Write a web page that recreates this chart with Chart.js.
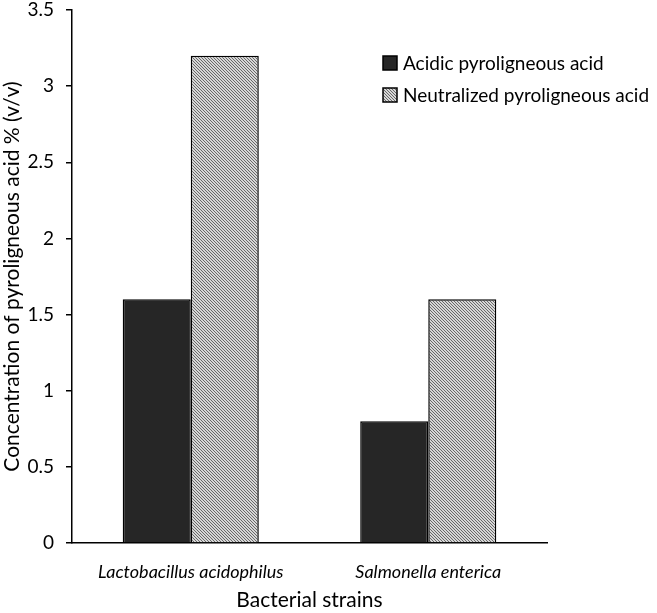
<!DOCTYPE html>
<html>
<head>
<meta charset="utf-8">
<script src="https://cdn.jsdelivr.net/npm/chart.js@4.4.0/dist/chart.umd.min.js"></script>
<style>
  html, body { margin: 0; padding: 0; background: #fff; }
  #wrap { width: 657px; height: 613px; }
</style>
</head>
<body>
<div id="wrap"><canvas id="barChart" width="657" height="613"></canvas></div>
<script>
const strains = ["Lactobacillus acidophilus", "Salmonella enterica"];
const acidic = [1.6, 0.8];
const neutralized = [3.2, 1.6];
const seriesNames = ["Acidic pyroligneous acid", "Neutralized pyroligneous acid"];
const yTicks = [0, 0.5, 1, 1.5, 2, 2.5, 3, 3.5];

const FONT = "Lato, 'Liberation Sans', sans-serif";

// fine diagonal hatch like the original
function makeHatch() {
  const size = 3;
  const c = document.createElement("canvas");
  c.width = size; c.height = size;
  const g = c.getContext("2d");
  const img = g.createImageData(size, size);
  for (let y = 0; y < size; y++) {
    for (let x = 0; x < size; x++) {
      const dark = ((x - y) % size + size) % size === 0;
      const v = dark ? 105 : 215;
      const i = (y * size + x) * 4;
      img.data[i] = v; img.data[i + 1] = v; img.data[i + 2] = v; img.data[i + 3] = 255;
    }
  }
  g.putImageData(img, 0, 0);
  return g.createPattern(c, "repeat");
}
const hatch = makeHatch();

// legend drawn inside the plot, top right
const insideLegend = {
  id: "insideLegend",
  afterDraw(chart) {
    const ctx = chart.ctx;
    const x0 = 383, y0 = 63, gap = 32, box = 14;
    ctx.save();
    ctx.font = "19px " + FONT;
    ctx.textBaseline = "middle";
    chart.data.datasets.forEach((ds, i) => {
      const y = y0 + i * gap;
      ctx.fillStyle = ds.backgroundColor;
      ctx.fillRect(x0, y - box / 2, box, box);
      ctx.lineWidth = 1.5;
      ctx.strokeStyle = "#000";
      ctx.strokeRect(x0, y - box / 2, box, box);
      ctx.fillStyle = "#000";
      ctx.fillText(ds.label, x0 + box + 6, y + 1);
    });
    ctx.restore();
  }
};

const ctx = document.getElementById("barChart").getContext("2d");
new Chart(ctx, {
  type: "bar",
  data: {
    labels: strains,
    datasets: [
      {
        label: seriesNames[0],
        data: acidic,
        backgroundColor: "#262626",
        borderColor: "#000",
        borderWidth: 1.5
      },
      {
        label: seriesNames[1],
        data: neutralized,
        backgroundColor: hatch,
        borderColor: "#000",
        borderWidth: 1.5
      }
    ]
  },
  options: {
    responsive: false,
    animation: false,
    events: [],
    categoryPercentage: 0.573,
    barPercentage: 1,
    layout: { padding: { top: 10, right: 110, bottom: 0, left: 0 } },
    plugins: {
      legend: { display: false },
      tooltip: { enabled: false }
    },
    scales: {
      x: {
        grid: { display: false },
        border: { display: true, color: "#000", width: 1.5 },
        ticks: {
          color: "#000",
          padding: 10,
          font: { family: FONT, size: 18, style: "italic" }
        },
        title: {
          display: true,
          text: "Bacterial strains",
          color: "#000",
          padding: { top: 6, bottom: 0 },
          font: { family: FONT, size: 21 }
        },
        afterFit(scale) { scale.height = 70; }
      },
      y: {
        min: 0,
        max: 3.5,
        afterBuildTicks(scale) { scale.ticks = yTicks.map(v => ({ value: v })); },
        grid: {
          drawOnChartArea: false,
          drawTicks: true,
          tickLength: 6,
          color: "#000",
          lineWidth: 1.5
        },
        border: { display: true, color: "#000", width: 1.5 },
        ticks: {
          color: "#000",
          padding: 12,
          callback: v => String(v),
          font: { family: FONT, size: 19 }
        },
        title: {
          display: true,
          text: "Concentration of pyroligneous acid % (v/v)",
          color: "#000",
          padding: { top: 0, bottom: 4 },
          font: { family: FONT, size: 21 }
        },
        afterFit(scale) {
          scale.width = 72;
          scale.paddingTop = 0;
          scale.paddingBottom = 0;
        }
      }
    }
  },
  plugins: [insideLegend]
});
</script>
</body>
</html>
